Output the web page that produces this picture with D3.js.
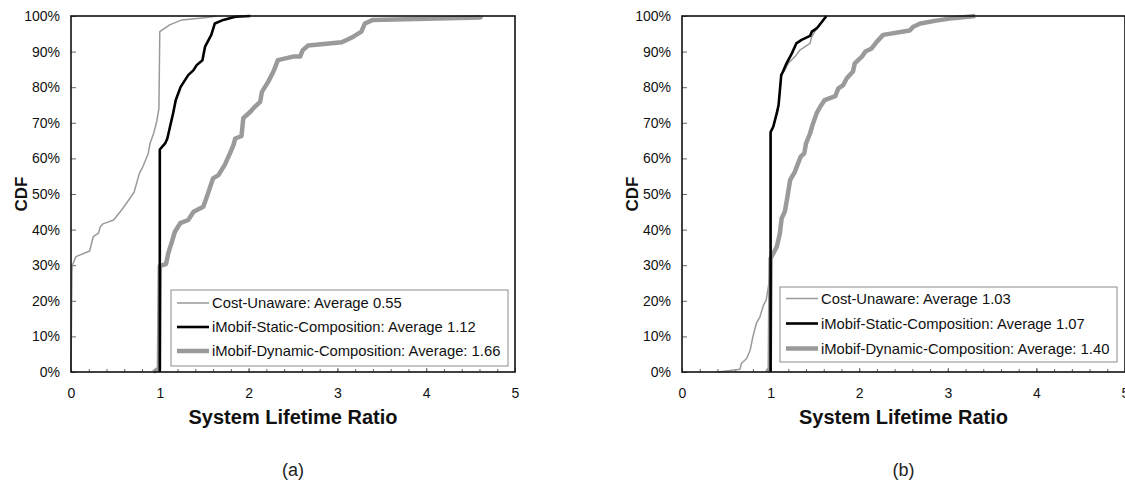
<!DOCTYPE html>
<html>
<head>
<meta charset="utf-8">
<script src="https://cdn.jsdelivr.net/npm/d3@7"></script>
<style>
  body { margin: 0; background: #fff; }
  svg { display: block; font-family: "Liberation Sans", Arial, Helvetica, sans-serif; }
  .tick text { font-size: 14px; font-family: "Liberation Sans", Arial, sans-serif; fill: #111; }
</style>
</head>
<body>
<svg id="chart" width="1125" height="493"></svg>
<script>
// axis ticks
const xTicks = [0, 1, 2, 3, 4, 5];
const yTicks = [0, 10, 20, 30, 40, 50, 60, 70, 80, 90, 100];

// (a) curves, [ratio, cdf %]
const aCostUnaware = [[0, 0], [0.01, 28], [0.015, 30], [0.056, 32.4], [0.21, 34], [0.25, 38], [0.31, 39],
  [0.33, 40.8], [0.36, 41.6], [0.48, 42.7], [0.57, 45.5], [0.65, 48.3], [0.71, 50.5], [0.77, 55.8],
  [0.81, 57.7], [0.87, 61.4], [0.89, 64.2], [0.93, 67], [0.965, 70.3], [0.99, 74], [1.0, 95.6],
  [1.11, 97.5], [1.25, 98.9], [1.53, 99.6], [1.64, 100]];
const aStatic = [[1.0, 0], [1.0, 62.5], [1.06, 64.2], [1.085, 65.6], [1.115, 68.9], [1.15, 72.7],
  [1.18, 76.4], [1.235, 80.1], [1.32, 83.4], [1.38, 84.8], [1.415, 86.2], [1.48, 87.6], [1.51, 91.4],
  [1.55, 93.3], [1.58, 94.7], [1.62, 97.9], [1.715, 98.9], [1.85, 99.8], [2.02, 100]];
const aDynamic = [[0.93, 0], [0.99, 1], [1.0, 29.8], [1.07, 30.3], [1.095, 33.3], [1.13, 36.1],
  [1.17, 39.4], [1.23, 41.8], [1.32, 42.7], [1.38, 45], [1.49, 46.4], [1.53, 49.2], [1.6, 54.4],
  [1.66, 55.3], [1.73, 58.1], [1.79, 61.4], [1.83, 63.8], [1.85, 65.6], [1.92, 66.3], [1.94, 71.3],
  [2.02, 73.1], [2.07, 74.5], [2.13, 75.9], [2.15, 78.7], [2.22, 81.5], [2.28, 84.4], [2.33, 87.6],
  [2.5, 88.6], [2.58, 88.6], [2.61, 90.4], [2.67, 91.7], [3.05, 92.6], [3.18, 94.2], [3.27, 95.6],
  [3.31, 97.9], [3.4, 98.9], [4.61, 99.6], [4.62, 100]];
const aLegendLabels = ["Cost-Unaware: Average 0.55", "iMobif-Static-Composition: Average 1.12",
  "iMobif-Dynamic-Composition: Average: 1.66"];

// (b) curves
const bCostUnaware = [[0.41, 0], [0.655, 0.8], [0.67, 2.4], [0.73, 3.8], [0.77, 6.2], [0.8, 9.9],
  [0.84, 13.7], [0.88, 15.5], [0.92, 18.8], [0.95, 20.2], [0.975, 24], [0.99, 26.8], [1.0, 30],
  [1.0, 67.4], [1.03, 68.9], [1.07, 72.7], [1.09, 75], [1.105, 79.2], [1.12, 83.4], [1.15, 84.4],
  [1.2, 86.7], [1.275, 88.6], [1.33, 90.4], [1.445, 92.3], [1.465, 94.2], [1.52, 96.5], [1.58, 98.4],
  [1.63, 100]];
const bStatic = [[1.0, 0], [1.0, 67.4], [1.03, 68.9], [1.07, 72.7], [1.09, 75], [1.105, 79.2],
  [1.12, 83.4], [1.14, 84.4], [1.18, 86.7], [1.24, 89.5], [1.29, 92.3], [1.35, 93.3], [1.445, 94.4],
  [1.465, 95.6], [1.52, 96.5], [1.58, 98.4], [1.63, 100]];
const bDynamic = [[0.96, 0], [0.99, 1], [1.0, 31.9], [1.07, 35.2], [1.105, 39], [1.125, 43.2],
  [1.16, 45], [1.18, 47.8], [1.19, 49.2], [1.22, 53.9], [1.275, 56.3], [1.31, 58.6], [1.34, 60.5],
  [1.38, 61.4], [1.4, 64.2], [1.445, 67], [1.48, 69.9], [1.52, 72.7], [1.56, 74.5], [1.61, 76.4],
  [1.73, 77.5], [1.765, 79.7], [1.82, 80.6], [1.86, 82.5], [1.93, 84.4], [1.95, 86.7], [2.03, 88.6],
  [2.07, 90], [2.14, 90.9], [2.2, 92.8], [2.27, 94.7], [2.57, 95.9], [2.61, 97], [2.69, 97.9],
  [2.87, 98.7], [3.06, 99.4], [3.31, 100]];
const bLegendLabels = ["Cost-Unaware: Average 1.03", "iMobif-Static-Composition: Average 1.07",
  "iMobif-Dynamic-Composition: Average: 1.40"];

// line styles: cost-unaware, static, dynamic
const styles = [
  { color: "#9a9a9a", width: 1.5 },
  { color: "#000", width: 2.6 },
  { color: "#9a9a9a", width: 4.5 }
];

const panels = [
  { tag: "(a)", left: 71, right: 515, series: [aCostUnaware, aStatic, aDynamic], labels: aLegendLabels,
    box: { x: 171, y: 290, w: 337, h: 76 }, rows: [303, 327, 351] },
  { tag: "(b)", left: 682, right: 1125, series: [bCostUnaware, bStatic, bDynamic], labels: bLegendLabels,
    box: { x: 780, y: 287, w: 337, h: 75 }, rows: [298.5, 323.5, 348.5] }
];

const plotTop = 16, plotBottom = 372;
const svg = d3.select("#chart");

panels.forEach(p => {
  const x = d3.scaleLinear().domain([0, 5]).range([p.left, p.right]);
  const y = d3.scaleLinear().domain([0, 100]).range([plotBottom, plotTop]);
  const g = svg.append("g");

  // minor x ticks every 0.2
  g.append("g")
    .attr("transform", `translate(0,${plotBottom})`)
    .call(d3.axisBottom(x).tickValues(d3.range(0, 5.001, 0.2)).tickSize(-3).tickFormat(""))
    .call(a => a.select(".domain").remove())
    .call(a => a.selectAll("line").attr("stroke", "#666"));

  // major x ticks + labels
  g.append("g")
    .attr("transform", `translate(0,${plotBottom})`)
    .call(d3.axisBottom(x).tickValues(xTicks).tickSize(-4).tickPadding(16).tickFormat(d3.format("d")))
    .attr("font-size", 14)
    .call(a => a.select(".domain").remove())
    .call(a => a.selectAll("line").attr("stroke", "#666"));

  // y ticks + labels
  g.append("g")
    .attr("transform", `translate(${p.left},0)`)
    .call(d3.axisLeft(y).tickValues(yTicks).tickSize(-5).tickPadding(11).tickFormat(d => d + "%"))
    .attr("font-size", 14)
    .call(a => a.select(".domain").remove())
    .call(a => a.selectAll("line").attr("stroke", "#666"));

  const line = d3.line().x(d => x(d[0])).y(d => y(d[1]));
  // draw dynamic first, then cost-unaware, then static on top
  [2, 0, 1].forEach(i => {
    g.append("path")
      .datum(p.series[i])
      .attr("d", line)
      .attr("fill", "none")
      .attr("stroke", styles[i].color)
      .attr("stroke-width", styles[i].width)
      .attr("stroke-linejoin", "round");
  });

  // frame
  g.append("rect")
    .attr("x", p.left).attr("y", plotTop)
    .attr("width", p.right - p.left).attr("height", plotBottom - plotTop)
    .attr("fill", "none").attr("stroke", "#111").attr("stroke-width", 1.6);

  // legend
  const lg = g.append("g");
  lg.append("rect")
    .attr("x", p.box.x).attr("y", p.box.y).attr("width", p.box.w).attr("height", p.box.h)
    .attr("fill", "#fff").attr("stroke", "#8a8a8a").attr("stroke-width", 1);
  p.labels.forEach((lab, i) => {
    lg.append("line")
      .attr("x1", p.box.x + 6).attr("x2", p.box.x + 38)
      .attr("y1", p.rows[i]).attr("y2", p.rows[i])
      .attr("stroke", styles[i].color).attr("stroke-width", styles[i].width);
    lg.append("text")
      .attr("x", p.box.x + 41).attr("y", p.rows[i]).attr("dy", "0.35em")
      .attr("font-size", 14.8).attr("fill", "#111")
      .text(lab);
  });

  const cx = (p.left + p.right) / 2;
  g.append("text")
    .attr("x", cx).attr("y", 424)
    .attr("text-anchor", "middle").attr("font-size", 20).attr("font-weight", "bold").attr("fill", "#111")
    .text("System Lifetime Ratio");

  g.append("text")
    .attr("transform", `translate(${p.left - 44},${(plotTop + plotBottom) / 2}) rotate(-90)`)
    .attr("text-anchor", "middle").attr("font-size", 17).attr("font-weight", "bold").attr("fill", "#111")
    .text("CDF");

  g.append("text")
    .attr("x", cx).attr("y", 476)
    .attr("text-anchor", "middle").attr("font-size", 18).attr("fill", "#222")
    .text(p.tag);
});
</script>
</body>
</html>
